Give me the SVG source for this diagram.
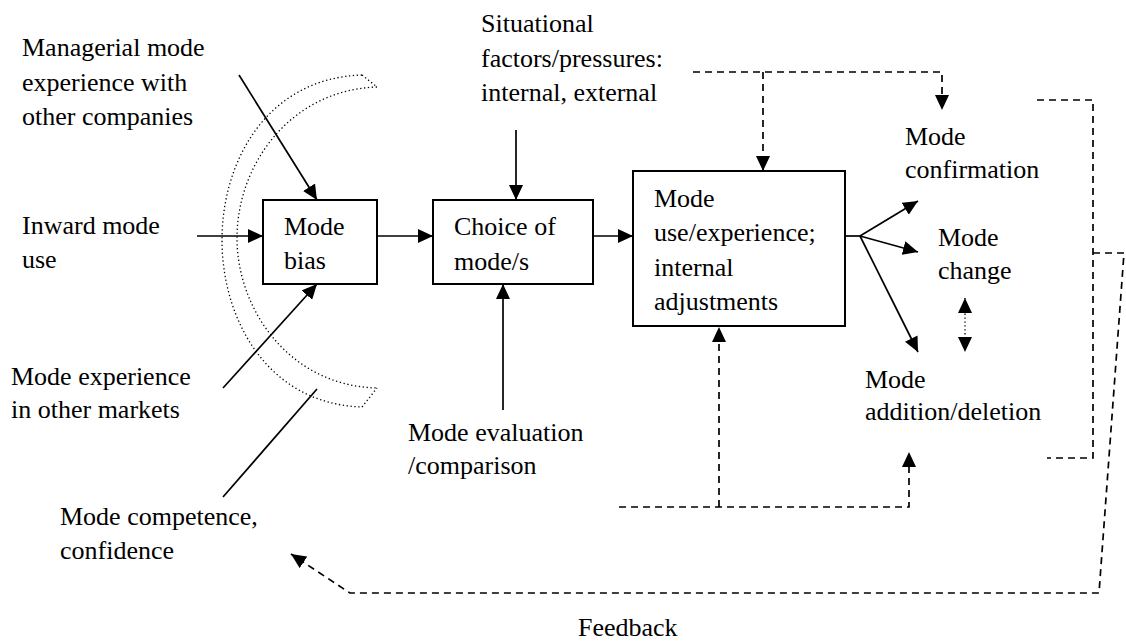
<svg xmlns="http://www.w3.org/2000/svg" width="1126" height="644" viewBox="0 0 1126 644">
<defs>
<style>
text { font-family: "Liberation Serif", "Times New Roman", serif; font-size: 26px; fill: #000; }
.box { fill: #fff; stroke: #000; stroke-width: 2; }
.ln { fill: none; stroke: #000; stroke-width: 1.7; }
.dash { fill: none; stroke: #000; stroke-width: 1.7; stroke-dasharray: 7 5; }
.dot { fill: none; stroke: #000; stroke-width: 1.3; stroke-dasharray: 1.3 2.6; }
</style>
<marker id="ah" markerUnits="userSpaceOnUse" markerWidth="16" markerHeight="14" refX="15" refY="7" orient="auto" viewBox="0 0 16 14">
<path d="M0,0 L15,7 L0,14 z" fill="#000"/>
</marker>
<marker id="ah2" markerUnits="userSpaceOnUse" markerWidth="16" markerHeight="14" refX="15" refY="7" orient="auto-start-reverse" viewBox="0 0 16 14">
<path d="M0,0 L15,7 L0,14 z" fill="#000"/>
</marker>
</defs>
<rect width="1126" height="644" fill="#fff"/>

<g id="arc">
<path class="dot" d="M362,75 C268,78 222,160 222,240 C222,320 268,404 362,407"/>
<path class="dot" d="M377,87 C290,90 237,165 237,238 C237,310 290,386 377,388"/>
<path class="dot" d="M362,75 L377,87 M362,407 L377,388"/>
</g>

<g id="connectors">
<path class="ln" d="M197,236 H263" marker-end="url(#ah)"/>
<path class="ln" d="M377,236 H433" marker-end="url(#ah)"/>
<path class="ln" d="M593,236 H633" marker-end="url(#ah)"/>
<path class="ln" d="M845,236 H860"/>
<path class="ln" d="M860,236 L918,201" marker-end="url(#ah)"/>
<path class="ln" d="M860,236 L918,252" marker-end="url(#ah)"/>
<path class="ln" d="M860,236 L918,352" marker-end="url(#ah)"/>
<path class="ln" d="M516,130 V200" marker-end="url(#ah)"/>
<path class="ln" d="M503,410 V284" marker-end="url(#ah)"/>
<path class="ln" d="M239,75 L317,200" marker-end="url(#ah)"/>
<path class="ln" d="M223,388 L317,284" marker-end="url(#ah)"/>
<path class="ln" d="M223,497 L317,389"/>
<path class="dash" d="M693,72 H942 V110" marker-end="url(#ah)"/>
<path class="dash" d="M763,72 V171" marker-end="url(#ah)"/>
<path class="dash" d="M1037,100 H1093 V458 H1047"/>
<path class="dash" d="M1093,253 H1124 L1099,593 H350 L291,554" marker-end="url(#ah)"/>
<path class="dash" d="M619,507 H909 V452" marker-end="url(#ah)"/>
<path class="dash" d="M719,507 V327" marker-end="url(#ah)"/>
<path class="dot" d="M965,298 V352" marker-start="url(#ah2)" marker-end="url(#ah2)"/>
</g>

<g id="node-managerial">
<text x="22" y="56">Managerial mode</text>
<text x="22" y="90.5">experience with</text>
<text x="22" y="125">other companies</text>
</g>
<g id="node-situational">
<text x="481" y="32">Situational</text>
<text x="481" y="67">factors/pressures:</text>
<text x="481" y="101">internal, external</text>
</g>
<g id="node-inward">
<text x="22" y="234">Inward mode</text>
<text x="22" y="268">use</text>
</g>
<g id="node-bias">
<rect class="box" x="263" y="200" width="114" height="84"/>
<text x="284" y="235">Mode</text>
<text x="284" y="269">bias</text>
</g>
<g id="node-choice">
<rect class="box" x="433" y="200" width="160" height="84"/>
<text x="454" y="235">Choice of</text>
<text x="454" y="270">mode/s</text>
</g>
<g id="node-use">
<rect class="box" x="633" y="171" width="212" height="155"/>
<text x="654" y="207">Mode</text>
<text x="654" y="241">use/experience;</text>
<text x="654" y="276">internal</text>
<text x="654" y="310">adjustments</text>
</g>
<g id="node-confirmation">
<text x="905" y="145">Mode</text>
<text x="905" y="178">confirmation</text>
</g>
<g id="node-change">
<text x="938" y="246">Mode</text>
<text x="938" y="279">change</text>
</g>
<g id="node-addition">
<text x="865" y="388">Mode</text>
<text x="865" y="420">addition/deletion</text>
</g>
<g id="node-experience">
<text x="11" y="385">Mode experience</text>
<text x="11" y="418">in other markets</text>
</g>
<g id="node-evaluation">
<text x="408" y="441">Mode evaluation</text>
<text x="408" y="474">/comparison</text>
</g>
<g id="node-competence">
<text x="60" y="525">Mode competence,</text>
<text x="60" y="559">confidence</text>
</g>
<g id="label-feedback">
<text x="578" y="636">Feedback</text>
</g>
</svg>
